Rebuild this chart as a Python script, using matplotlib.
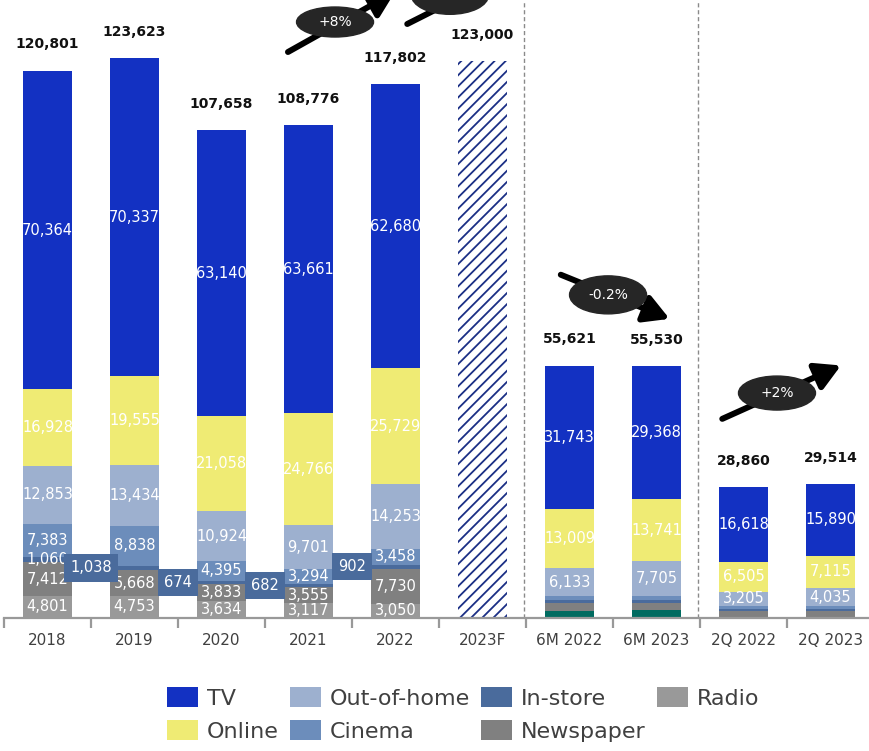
import numpy as np
import matplotlib.pyplot as plt
from matplotlib.patches import Ellipse

plt.rcParams['font.family'] = 'DejaVu Sans'
plt.rcParams['hatch.linewidth'] = 1.3

periods = ['2018', '2019', '2020', '2021', '2022', '2023F',
           '6M 2022', '6M 2023', '2Q 2022', '2Q 2023']
totals = [120801, 123623, 107658, 108776, 117802, 123000,
          55621, 55530, 28860, 29514]

# segments, bottom to top
other = [0, 0, 0, 0, 0, 0, 1396, 1572, 0, 0]
radio = [4801, 4753, 3634, 3117, 3050, 0, 0, 0, 0, 0]
newspaper = [7412, 5668, 3833, 3555, 7730, 0, 1720, 1572, 1422, 1499]
instore = [1060, 1038, 674, 682, 902, 0, 670, 652, 460, 400]
cinema = [7383, 8838, 4395, 3294, 3458, 0, 950, 920, 650, 575]
outdoor = [12853, 13434, 10924, 9701, 14253, 0, 6133, 7705, 3205, 4035]
online = [16928, 19555, 21058, 24766, 25729, 0, 13009, 13741, 6505, 7115]
tv = [70364, 70337, 63140, 63661, 62680, 0, 31743, 29368, 16618, 15890]

growth = ['+8%', '', '-0.2%', '+2%']

series = [
    (other, '#006b60', None),
    (radio, '#999999', 'Radio'),
    (newspaper, '#808080', 'Newspaper'),
    (instore, '#4a6b9c', 'In-store'),
    (cinema, '#6c8dbb', 'Cinema'),
    (outdoor, '#9db0cf', 'Out-of-home'),
    (online, '#efeb74', 'Online'),
    (tv, '#1331c2', 'TV'),
]

fig = plt.figure(figsize=(8.69, 7.51), dpi=100)
ax = fig.add_axes([4 / 869, 1 - 617.5 / 751, 870 / 869, 617.5 / 751])

x = np.arange(len(periods))
w = 0.563
ymax = 136464
ax.set_xlim(-0.5, 9.5)
ax.set_ylim(0, ymax)

bottom = np.zeros(len(periods))
handles = {}
for vals, col, name in series:
    vals = np.array(vals, dtype=float)
    b = ax.bar(x, vals, w, bottom=bottom, color=col, linewidth=0, zorder=2)
    if name:
        handles[name] = b
    bottom += vals

# forecast bar
ax.bar(5, totals[5], w, color='white', edgecolor='#1b2f85', hatch='///',
       linewidth=0, zorder=2)

# value labels inside the bars
lab_kw = dict(ha='center', va='center', color='white', fontsize=10.5, zorder=4)
cum = np.zeros(len(periods))
for vals, col, name in series:
    vals = np.array(vals, dtype=float)
    for i, v in enumerate(vals):
        mid = cum[i] + v / 2
        if v == 0:
            continue
        if i < 5:
            if name == 'In-store':
                if i == 0:
                    ax.text(i, mid, f'{int(v):,}', **lab_kw)
                else:
                    ax.text(i - 0.5, mid, f'{int(v):,}', ha='center',
                            va='center', color='white', fontsize=10.5,
                            zorder=6,
                            bbox=dict(boxstyle='square,pad=0.42',
                                      fc='#4a6b9c', ec='none'))
            elif name is not None:
                ax.text(i, mid, f'{int(v):,}', **lab_kw)
        elif name in ('TV', 'Online', 'Out-of-home'):
            ax.text(i, mid, f'{int(v):,}', **lab_kw)
    cum += vals

for i, t in enumerate(totals):
    ax.annotate(f'{t:,}', (i, t), xytext=(0, 19), textcoords='offset points',
                ha='center', va='center', fontsize=10, fontweight='bold',
                color='#111111')

# growth arrows with ellipse badges: tail, head, badge centre, badge height (px)
arrows = [
    ((2.764, 124970), (3.994, 138230), (3.305, 131600), 30),
    ((4.135, 131160), (5.20, 141500), (4.626, 137500), 38),
    ((5.90, 75750), (7.15, 66000), (6.443, 71300), 38),
    ((7.756, 43900), (9.12, 55700), (8.385, 49600), 34),
]
for txt, (tail, head, c, hpx) in zip(growth, arrows):
    ax.annotate('', xy=head, xytext=tail, annotation_clip=False,
                arrowprops=dict(arrowstyle='-|>,head_length=0.75,head_width=0.42',
                                lw=4.3, color='black', mutation_scale=20,
                                shrinkA=0, shrinkB=0), zorder=7)
    ax.add_patch(Ellipse(c, 77 / 87, hpx / 0.004525, color='#262626',
                         zorder=8, clip_on=False))
    if txt:
        ax.text(c[0], c[1], txt, ha='center', va='center', color='white',
                fontsize=10, zorder=9)

for sx in (5.477, 7.477):
    ax.axvline(sx, color='#8a8a8a', lw=1, ls=(0, (3, 2)), zorder=1)

for s in ('top', 'right', 'left'):
    ax.spines[s].set_visible(False)
ax.spines['bottom'].set_color('#999999')
ax.spines['bottom'].set_linewidth(1.6)
ax.set_yticks([])
ax.set_xticks(x)
ax.set_xticklabels(periods, fontsize=11, color='#404040')
ax.set_xticks(np.arange(-0.5, 10, 1), minor=True)
ax.tick_params(axis='x', which='major', length=0, pad=11)
ax.tick_params(axis='x', which='minor', length=7, width=1.6, color='#999999')

order = ['TV', 'Online', 'Out-of-home', 'Cinema', 'In-store', 'Newspaper', 'Radio']
leg = fig.legend([handles[n] for n in order], order, ncol=4, loc='center',
                 bbox_to_anchor=(0.533, 0.049), frameon=False, fontsize=16,
                 handlelength=1.4, handleheight=1.05, handletextpad=0.4,
                 columnspacing=0.5, labelspacing=0.5)
for t in leg.get_texts():
    t.set_color('#404040')

fig.savefig('out.png', dpi=100)
